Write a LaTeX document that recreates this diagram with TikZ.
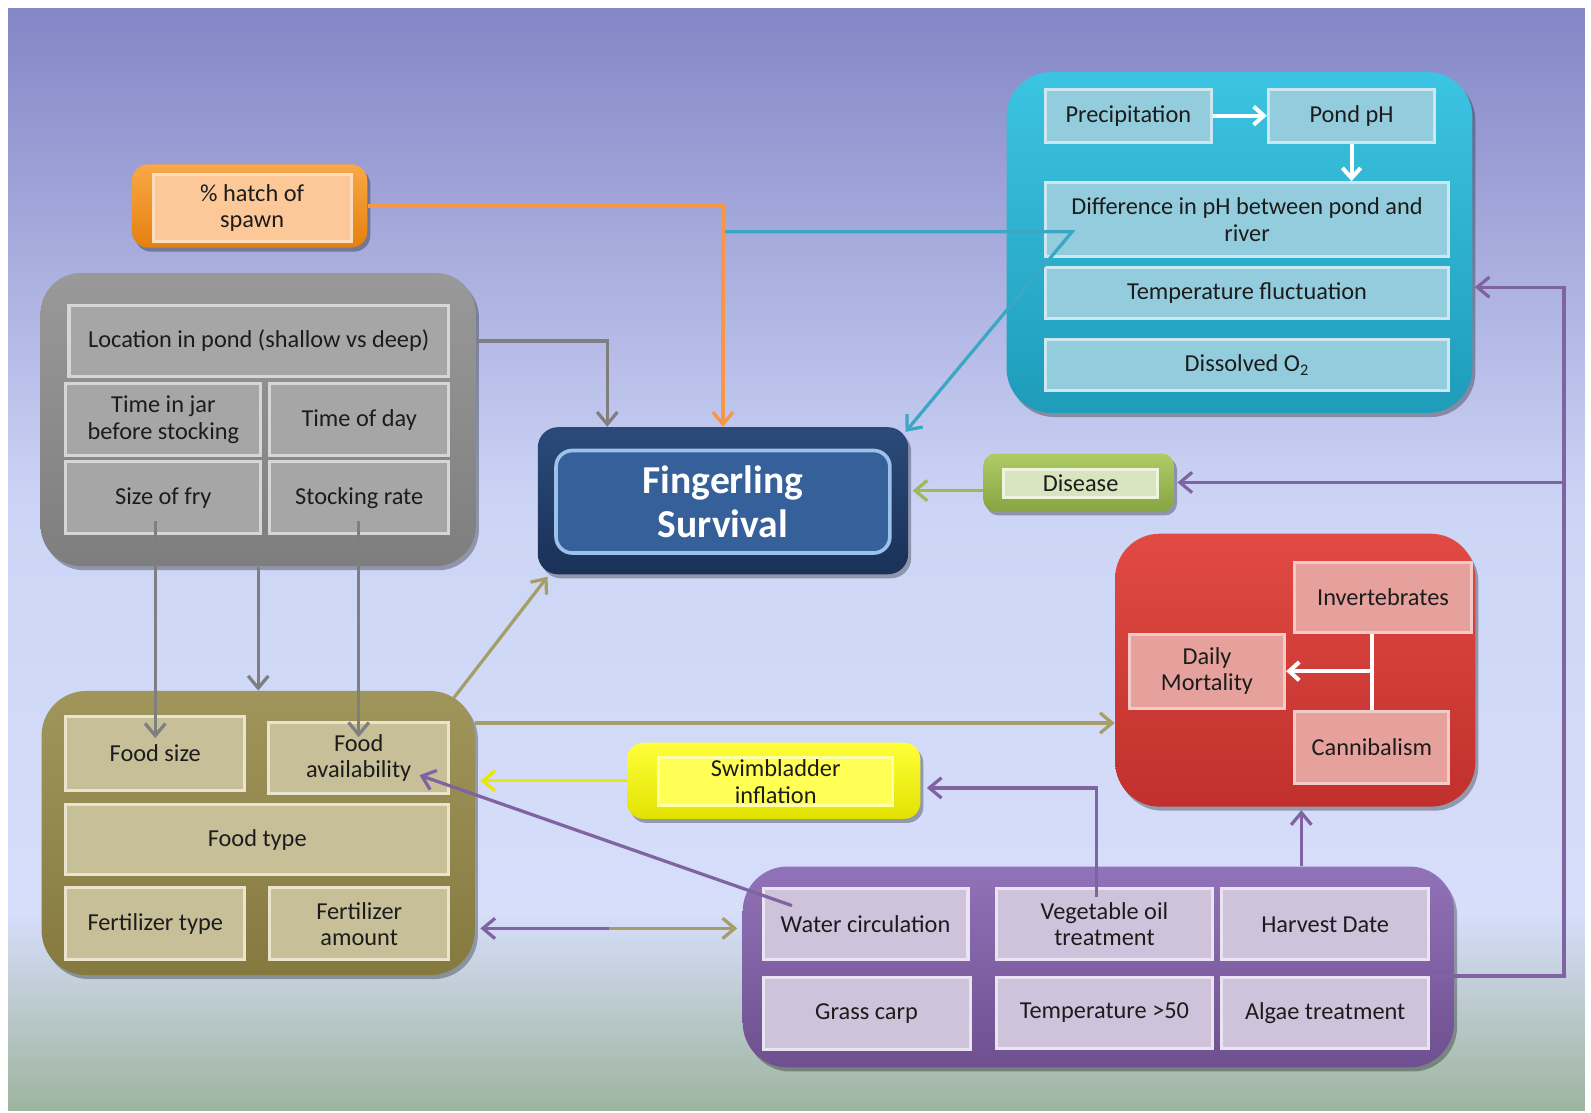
\documentclass[tikz,border=0pt]{standalone}
\usepackage{fontspec}
\setmainfont{Carlito}
\usetikzlibrary{arrows.meta,shadows,calc}
\definecolor{bgA}{HTML}{8486C6}\definecolor{bgB}{HTML}{CDD5F6}\definecolor{bgC}{HTML}{D6DEFA}
\definecolor{bgE}{HTML}{C2CEE2}\definecolor{bgD}{HTML}{9EB49E}
\definecolor{txt}{HTML}{1C1C1C}
\definecolor{orA}{HTML}{F9A845}\definecolor{orB}{HTML}{E5800F}\definecolor{orIn}{HTML}{FCC898}\definecolor{orLn}{HTML}{FDDDBE}
\definecolor{grA}{HTML}{999999}\definecolor{grB}{HTML}{7E7E7E}\definecolor{grIn}{HTML}{A6A6A6}\definecolor{grLn}{HTML}{D6D6D6}
\definecolor{nvA}{HTML}{2B4A7A}\definecolor{nvB}{HTML}{1A3158}\definecolor{nvIn}{HTML}{35609A}\definecolor{nvLn}{HTML}{9CC2EA}
\definecolor{cyA}{HTML}{3CC4E2}\definecolor{cyB}{HTML}{1E9CBA}\definecolor{cyIn}{HTML}{93CDDD}\definecolor{cyLn}{HTML}{CBE8F0}
\definecolor{gnA}{HTML}{AECB66}\definecolor{gnB}{HTML}{86A542}\definecolor{gnIn}{HTML}{D8E5BE}\definecolor{gnLn}{HTML}{EEF4E0}
\definecolor{rdA}{HTML}{E24A44}\definecolor{rdB}{HTML}{C0302C}\definecolor{rdIn}{HTML}{E6A19D}\definecolor{rdLn}{HTML}{F4CAC8}
\definecolor{olA}{HTML}{A0965C}\definecolor{olB}{HTML}{85793F}\definecolor{olIn}{HTML}{C7BF98}\definecolor{olLn}{HTML}{EAE4CC}
\definecolor{ylA}{HTML}{FFFF3A}\definecolor{ylB}{HTML}{E2E200}\definecolor{ylIn}{HTML}{FFFF55}\definecolor{ylLn}{HTML}{FFFFA8}
\definecolor{ppA}{HTML}{9272B8}\definecolor{ppB}{HTML}{6E5090}\definecolor{ppIn}{HTML}{CFC3DC}\definecolor{ppLn}{HTML}{EAE4F2}
\definecolor{cOr}{HTML}{F79646}\definecolor{cGr}{HTML}{7F7F7F}\definecolor{cCy}{HTML}{3AA8C4}
\definecolor{cOl}{HTML}{A59E68}\definecolor{cYl}{HTML}{E8E800}\definecolor{cPp}{HTML}{8064A2}\definecolor{cGn}{HTML}{9BBB59}
\newcommand\txtfont{\fontsize{12}{13}\selectfont}
\newcommand\bigfont{\fontsize{19.5}{22}\selectfont\bfseries}
% \mkbox{name}{x1}{y1}{x2}{y2}{style}{text}  (image pixel coordinates)
\newcommand\mkbox[7]{\node[#6, minimum width={(#4-#2)*0.5pt}, minimum height={(#5-#3)*0.5pt}] (#1) at ({(#2+#4)/2},{(#3+#5)/2}) {#7};}
\begin{document}
\begin{tikzpicture}[x=0.5pt,y=-0.5pt,
  grp/.style={inner sep=0pt, rounded corners=#1, drop shadow={shadow xshift=1.5pt, shadow yshift=-2pt, opacity=0.3, fill=black}},
  inb/.style 2 args={inner sep=0pt, line width=1.5pt, align=center, font=\txtfont, text=txt, fill=#1, draw=#2},
  conn/.style={line width=1.6pt, -{Straight Barb[length=6pt,width=10pt]}},
  wconn/.style={line width=2pt, white, -{Straight Barb[length=5pt,width=9pt]}}]
\useasboundingbox (0,0) rectangle (1568,1096);
\fill[white] (0,0) rectangle (1568,1096);
\shade[top color=bgA, bottom color=bgB] (8,8) rectangle (1562,501);
\shade[top color=bgB, bottom color=bgC] (8,500) rectangle (1562,901);
\shade[top color=bgC, middle color=bgE, bottom color=bgD] (8,900) rectangle (1562,1094);

% orange
\mkbox{hatchg}{130}{162}{362}{244}{grp=8pt, top color=orA, bottom color=orB}{}
\mkbox{hatch}{151}{172}{346}{238}{inb={orIn}{orLn}}{\% hatch of\\spawn}

% gray group
\mkbox{gray}{40}{269}{469}{558}{grp=20pt, top color=grA, bottom color=grB}{}
\mkbox{loc}{68}{301}{442}{371}{inb={grIn}{grLn}}{Location in pond (shallow vs deep)}
\mkbox{tij}{65}{378}{257}{449}{inb={grIn}{grLn}}{Time in jar\\before stocking}
\mkbox{tod}{266}{378}{442}{449}{inb={grIn}{grLn}}{Time of day}
\mkbox{sof}{65}{455}{257}{526}{inb={grIn}{grLn}}{Size of fry}
\mkbox{sr}{266}{455}{442}{526}{inb={grIn}{grLn}}{Stocking rate}

% fingerling
\mkbox{fing}{530}{421}{895}{566}{grp=10pt, top color=nvA, bottom color=nvB}{}
\mkbox{fingin}{548}{444}{877}{545}{inner sep=0pt, rounded corners=8pt, fill=nvIn, draw=nvLn, line width=1.8pt, font=\bigfont, text=white, align=center}{Fingerling\\Survival}

% cyan group
\mkbox{cyan}{992}{71}{1451}{407}{grp=22pt, top color=cyA, bottom color=cyB}{}
\mkbox{precip}{1030}{88}{1194}{140}{inb={cyIn}{cyLn}}{Precipitation}
\mkbox{pph}{1250}{88}{1414}{140}{inb={cyIn}{cyLn}}{Pond pH}
\mkbox{diff}{1030}{180}{1428}{253}{inb={cyIn}{cyLn}}{Difference in pH between pond and\\river}
\mkbox{tempf}{1030}{264}{1428}{314}{inb={cyIn}{cyLn}}{Temperature fluctuation}
\mkbox{dox}{1030}{335}{1428}{385}{inb={cyIn}{cyLn}}{Dissolved O\textsubscript{2}}

% disease
\mkbox{diseaseg}{969}{447}{1157}{504}{grp=6pt, top color=gnA, bottom color=gnB}{}
\mkbox{disease}{989}{463}{1141}{490}{inb={gnIn}{gnLn}}{Disease}

% red group
\mkbox{red}{1099}{526}{1454}{795}{grp=22pt, top color=rdA, bottom color=rdB}{}
\mkbox{invert}{1276}{554}{1450}{623}{inb={rdIn}{rdLn}}{Invertebrates}
\mkbox{dm}{1113}{625}{1266}{698}{inb={rdIn}{rdLn}}{Daily\\Mortality}
\mkbox{cannib}{1276}{701}{1428}{772}{inb={rdIn}{rdLn}}{Cannibalism}

% olive group
\mkbox{olive}{41}{681}{468}{961}{grp=22pt, top color=olA, bottom color=olB}{}
\mkbox{foodsize}{65}{706}{241}{779}{inb={olIn}{olLn}}{Food size}
\mkbox{foodav}{265}{712}{442}{782}{inb={olIn}{olLn}}{Food\\availability}
\mkbox{foodtype}{65}{793}{442}{862}{inb={olIn}{olLn}}{Food type}
\mkbox{fertt}{65}{875}{241}{946}{inb={olIn}{olLn}}{Fertilizer type}
\mkbox{ferta}{266}{875}{442}{946}{inb={olIn}{olLn}}{Fertilizer\\amount}

% swimbladder
\mkbox{swimg}{618}{732}{907}{807}{grp=8pt, top color=ylA, bottom color=ylB}{}
\mkbox{swim}{649}{747}{880}{794}{inb={ylIn}{ylLn}}{Swimbladder\\inflation}

% purple group
\mkbox{purpleg}{732}{854}{1433}{1052}{grp=22pt, top color=ppA, bottom color=ppB}{}
\mkbox{water}{752}{876}{954}{946}{inb={ppIn}{ppLn}}{Water circulation}
\mkbox{veg}{982}{876}{1195}{946}{inb={ppIn}{ppLn}}{Vegetable oil\\treatment}
\mkbox{harv}{1204}{876}{1408}{946}{inb={ppIn}{ppLn}}{Harvest Date}
\mkbox{grass}{752}{963}{956}{1034}{inb={ppIn}{ppLn}}{Grass carp}
\mkbox{temp}{982}{963}{1195}{1033}{inb={ppIn}{ppLn}}{Temperature >50}
\mkbox{algae}{1204}{963}{1408}{1033}{inb={ppIn}{ppLn}}{Algae treatment}

% connectors
\path ($(diff.west)+(28,12)$) coordinate (cyb);
\draw[conn, cCy] (fing.north |- cyb) -- (cyb) -- ($(fing.north east)+(-3,5)$);
\draw[conn, cOr] (hatchg.east) -| (fing.north);
\draw[conn, cGr] (gray.east |- loc.east) -| ($(fing.north)+(-114,0)$);

\draw[conn, cGr] ($(sof.south -| foodsize.north)+(0,-14)$) -- ($(foodsize.north)+(0,23)$);
\draw[conn, cGr] (gray.south) -- (olive.north);
\draw[conn, cGr] ($(sr.south -| foodav.north)+(0,-14)$) -- ($(foodav.north)+(0,16)$);

\draw[conn, cOl] ($(olive.north east)+(-21,7)$) -- ($(fing.south west)+(10,2)$);
\draw[conn, cOl] ($(olive.north east)+(0,32)$) coordinate (oh) -- (red.west |- oh);
\draw[conn, cYl] (swimg.west) -- ($(olive.east |- swimg.west)+(5,0)$);
\draw[conn, cPp] ($(water.north west)+(30,18)$) -- ($(foodav.east)+(-30,17)$);

\path ($(water.west)+(0,4)$) coordinate (dw);
\path (olive.east |- dw) coordinate (dl);
\path (purpleg.west |- dw) coordinate (dr);
\draw[line width=1.6pt, cPp, {Straight Barb[length=6pt,width=10pt]}-] ($(dl)+(5,0)$) -- ($(dl)!0.5!(dr)$);
\draw[conn, cOl] ($(dl)!0.5!(dr)$) -- ($(dr)+(-5,0)$);

\draw[conn, cPp] ($(veg.north)+(-8,10)$) |- ($(swimg.east)+(6,7)$);
\path ($(red.south)+(6,0)$) coordinate (ru);
\draw[conn, cPp] (ru |- purpleg.north) -- ($(ru)+(0,3)$);

\path ($(cyan.east)+(0,44)$) coordinate (ce);
\path ($(ce)+(90,0)$) coordinate (cb);
\draw[conn, cPp] ($(purpleg.east)+(-22,9)$) -| (cb) -- ($(ce)+(2,0)$);
\draw[conn, cPp] (cb |- diseaseg.east) -- ($(diseaseg.east)+(3,0)$);
\draw[conn, cGn] ($(diseaseg.west)+(0,8)$) -- ($(fing.east |- diseaseg.west)+(4,8)$);

\draw[wconn] (precip.east) -- (pph.west);
\draw[wconn] (pph.south) -- (pph.south |- diff.north);
\draw[line width=2pt, white] (cannib.north |- invert.south) -- (cannib.north);
\draw[wconn] (cannib.north |- dm.east) -- (dm.east);
\end{tikzpicture}
\end{document}
